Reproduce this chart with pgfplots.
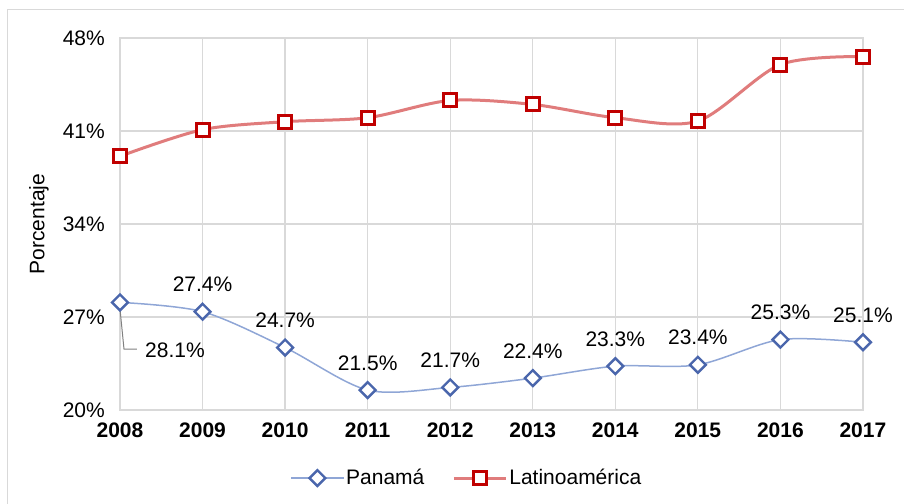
\documentclass[border=0pt]{standalone}
\usepackage{pgfplots}
\pgfplotsset{compat=1.18}
\usepackage{fontspec}
\setmainfont{Liberation Sans}
\definecolor{gridc}{HTML}{D9D9D9}
\definecolor{panline}{HTML}{8FA6D6}
\definecolor{panmark}{HTML}{4A66AC}
\definecolor{latline}{HTML}{E07C7C}
\definecolor{latmark}{HTML}{C00000}
\pgfplotstableread{
year val lab
2008 28.1 {}
2009 27.4 27.4\%
2010 24.7 24.7\%
2011 21.5 21.5\%
2012 21.7 21.7\%
2013 22.4 22.4\%
2014 23.3 23.3\%
2015 23.4 23.4\%
2016 25.3 25.3\%
2017 25.1 25.1\%
}\panama
\pgfplotstableread{
year val
2008 39.1
2009 41.1
2010 41.7
2011 42.0
2012 43.3
2013 43.0
2014 42.0
2015 41.75
2016 46.0
2017 46.6
}\latam
\newcommand{\fs}{\fontsize{21bp}{25bp}\selectfont}
\begin{document}
\fs
\begin{tikzpicture}
\path[use as bounding box] (-120bp,-94bp) rectangle (784bp,410bp);
\draw[gridc, line width=1bp] (-112bp,-110bp) rectangle (800bp,400bp);
\begin{axis}[
  at={(0,0)}, anchor=south west,
  scale only axis, width=743bp, height=372bp,
  xmin=2008, xmax=2017, ymin=20, ymax=48,
  xtick={2008,...,2017}, ytick={20,27,34,41,48},
  /pgf/number format/assume math mode=true,
  /pgf/number format/1000 sep={},
  yticklabel={\pgfmathprintnumber{\tick}\%},
  xticklabel style={font=\fs\bfseries, yshift=-6bp},
  yticklabel style={font=\fs, xshift=-8bp},
  grid=major,
  grid style={gridc, line width=1.3bp},
  axis line style={gridc, line width=1.3bp},
  tick style={draw=none},
  clip=false,
  legend style={at={(0.467,-0.183)}, anchor=center, draw=none, fill=none,
    font=\fs, legend columns=2,
    /tikz/every even column/.append style={column sep=26bp}},
  legend cell align=left,
  legend image code/.code={\draw[mark repeat=2,mark phase=2] plot coordinates {(0bp,0bp) (26bp,0bp) (52bp,0bp)};},
]
\addplot[panline, line width=1.5bp, smooth, tension=0.5,
  mark=square*, mark size=5.6bp,
  mark options={draw=panmark, fill=white, line width=2.4bp, solid, rotate=45},
  nodes near coords, point meta=explicit symbolic,
  every node near coord/.append style={anchor=base, yshift=20bp, text=black,
    font=\fs, rotate=0}]
  table[x=year, y=val, meta=lab] {\panama};
\addlegendentry{Panamá}
\addplot[latline, line width=3bp, smooth, tension=0.5,
  mark=square*, mark size=6.5bp,
  mark options={draw=latmark, fill=white, line width=3bp, solid}]
  table[x=year, y=val] {\latam};
\addlegendentry{Latinoamérica}
\draw[gray, line width=1bp] (axis cs:2008,27.6) -- ([xshift=4bp]axis cs:2008,24.59) -- ([xshift=17bp]axis cs:2008,24.59);
\node[anchor=west, inner sep=0pt, xshift=25bp] at (axis cs:2008,24.52) {28.1\%};
\node[rotate=90] at ([xshift=-81bp]rel axis cs:0,0.5) {Porcentaje};
\end{axis}
\end{tikzpicture}
\end{document}
